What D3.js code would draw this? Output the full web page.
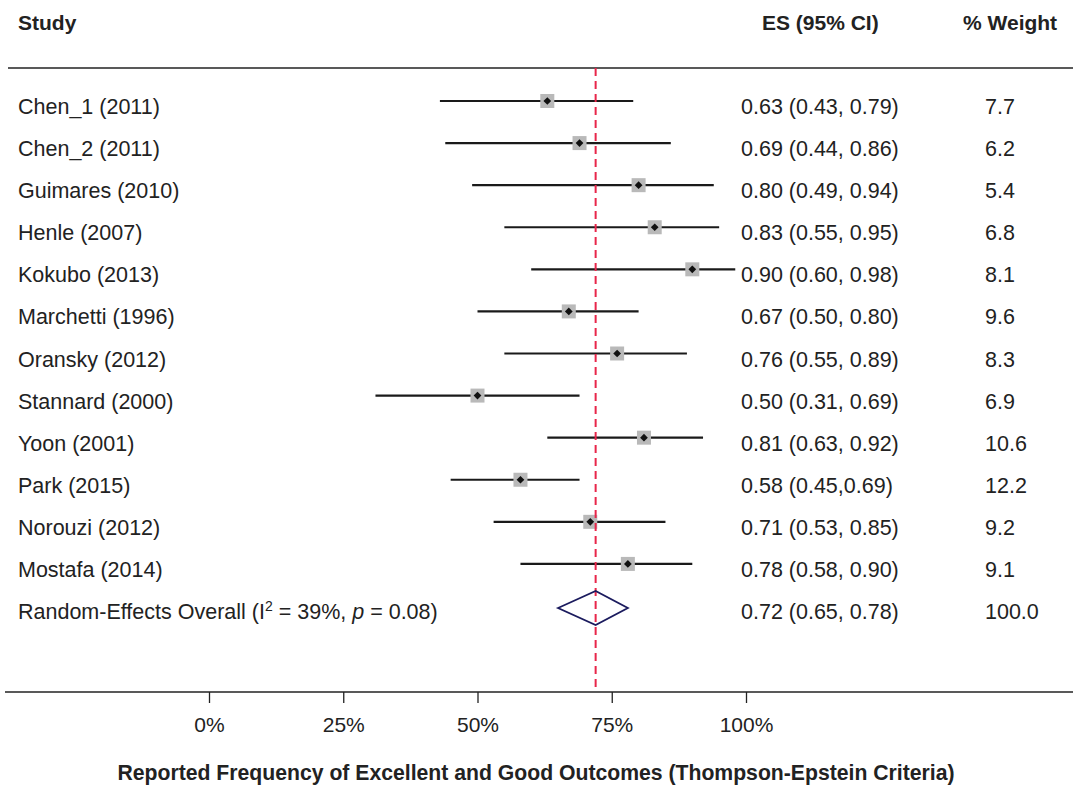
<!DOCTYPE html>
<html>
<head>
<meta charset="utf-8">
<script src="https://cdn.jsdelivr.net/npm/d3@7"></script>
<style>
  body { margin: 0; background: #fff; }
  svg text { font-family: "Liberation Sans", Arial, Helvetica, sans-serif; fill: #222; }
</style>
</head>
<body>
<div id="chart"></div>
<script>
// Data
const studies = ["Chen_1 (2011)", "Chen_2 (2011)", "Guimares (2010)", "Henle (2007)", "Kokubo (2013)",
  "Marchetti (1996)", "Oransky (2012)", "Stannard (2000)", "Yoon (2001)", "Park (2015)",
  "Norouzi (2012)", "Mostafa (2014)"];
const es    = [0.63, 0.69, 0.80, 0.83, 0.90, 0.67, 0.76, 0.50, 0.81, 0.58, 0.71, 0.78];
const lower = [0.43, 0.44, 0.49, 0.55, 0.60, 0.50, 0.55, 0.31, 0.63, 0.45, 0.53, 0.58];
const upper = [0.79, 0.86, 0.94, 0.95, 0.98, 0.80, 0.89, 0.69, 0.92, 0.69, 0.85, 0.90];
const esLabels = ["0.63 (0.43, 0.79)", "0.69 (0.44, 0.86)", "0.80 (0.49, 0.94)", "0.83 (0.55, 0.95)",
  "0.90 (0.60, 0.98)", "0.67 (0.50, 0.80)", "0.76 (0.55, 0.89)", "0.50 (0.31, 0.69)",
  "0.81 (0.63, 0.92)", "0.58 (0.45,0.69)", "0.71 (0.53, 0.85)", "0.78 (0.58, 0.90)"];
const weights = ["7.7", "6.2", "5.4", "6.8", "8.1", "9.6", "8.3", "6.9", "10.6", "12.2", "9.2", "9.1"];

const overall = { es: 0.72, lower: 0.65, upper: 0.78, label: "0.72 (0.65, 0.78)", weight: "100.0" };
const xTicks = [0, 0.25, 0.5, 0.75, 1];

const width = 1073, height = 787;
const fs = 21.5;

const svg = d3.select("#chart").append("svg")
  .attr("width", width)
  .attr("height", height);

const x = d3.scaleLinear().domain([0, 1]).range([209, 746]);

const rowNames = studies.concat(["overall"]);
const y = d3.scalePoint().domain(rowNames).range([101, 606]);

const topLine = 68, axisY = 692;
const esCol = 741, wCol = 985;

// header
svg.append("text").attr("x", 18).attr("y", 30).attr("font-size", 21).attr("font-weight", "bold").text("Study");
svg.append("text").attr("x", 762).attr("y", 30).attr("font-size", 21).attr("font-weight", "bold").text("ES (95% CI)");
svg.append("text").attr("x", 963).attr("y", 30).attr("font-size", 21).attr("font-weight", "bold").text("% Weight");

svg.append("line")
  .attr("x1", 8).attr("x2", width).attr("y1", topLine).attr("y2", topLine)
  .attr("stroke", "#222").attr("stroke-width", 1.5);

// CI lines
const rows = studies.map((s, i) => ({ s, es: es[i], lo: lower[i], hi: upper[i], lab: esLabels[i], w: weights[i] }));

svg.append("g").selectAll("line")
  .data(rows).join("line")
  .attr("x1", d => x(d.lo)).attr("x2", d => x(d.hi))
  .attr("y1", d => y(d.s)).attr("y2", d => y(d.s))
  .attr("stroke", "#1a1a1a").attr("stroke-width", 2.2);

// weight boxes
const box = 14;
svg.append("g").selectAll("rect")
  .data(rows).join("rect")
  .attr("x", d => x(d.es) - box / 2).attr("y", d => y(d.s) - box / 2)
  .attr("width", box).attr("height", box)
  .attr("fill", "#b9b9b9");

// point markers
svg.append("g").selectAll("path")
  .data(rows).join("path")
  .attr("d", d3.symbol(d3.symbolSquare, 30)())
  .attr("transform", d => `translate(${x(d.es)},${y(d.s)}) rotate(45)`)
  .attr("fill", "#111");

// labels
svg.append("g").selectAll("text")
  .data(rows).join("text")
  .attr("x", 18).attr("y", d => y(d.s) + 13)
  .attr("font-size", fs).text(d => d.s);

svg.append("g").selectAll("text")
  .data(rows).join("text")
  .attr("x", esCol).attr("y", d => y(d.s) + 13)
  .attr("font-size", fs).text(d => d.lab);

svg.append("g").selectAll("text")
  .data(rows).join("text")
  .attr("x", wCol).attr("y", d => y(d.s) + 13)
  .attr("font-size", fs).text(d => d.w);

// overall row
const oy = y("overall") + 2;
const ot = svg.append("text").attr("x", 18).attr("y", oy + 11).attr("font-size", fs);
ot.append("tspan").text("Random-Effects Overall (I");
ot.append("tspan").attr("font-size", 14).attr("dy", -8).text("2");
ot.append("tspan").attr("dy", 8).text(" = 39%, ");
ot.append("tspan").attr("font-style", "italic").text("p");
ot.append("tspan").text(" = 0.08)");

svg.append("text").attr("x", esCol).attr("y", oy + 11).attr("font-size", fs).text(overall.label);
svg.append("text").attr("x", wCol).attr("y", oy + 11).attr("font-size", fs).text(overall.weight);

// red dashed reference line at pooled estimate
svg.append("line")
  .attr("x1", x(overall.es)).attr("x2", x(overall.es))
  .attr("y1", topLine).attr("y2", axisY - 4)
  .attr("stroke", "#e8264a").attr("stroke-width", 2)
  .attr("stroke-dasharray", "8,5");

// overall diamond
const dh = 17;
svg.append("path")
  .attr("d", `M${x(overall.lower)},${oy} L${x(overall.es)},${oy - dh} L${x(overall.upper)},${oy} L${x(overall.es)},${oy + dh} Z`)
  .attr("fill", "none").attr("stroke", "#1b1b5e").attr("stroke-width", 1.8);

// axis
svg.append("line")
  .attr("x1", 5).attr("x2", width).attr("y1", axisY).attr("y2", axisY)
  .attr("stroke", "#222").attr("stroke-width", 1.5);

const axisG = svg.append("g")
  .attr("transform", `translate(0,${axisY})`)
  .call(d3.axisBottom(x).tickValues(xTicks).tickFormat(d3.format(".0%")).tickSize(11).tickPadding(14));
axisG.select(".domain").remove();
axisG.selectAll(".tick line").attr("stroke", "#222").attr("stroke-width", 1.3);
axisG.selectAll(".tick text")
  .attr("font-size", 21).attr("fill", "#222")
  .attr("font-family", "Liberation Sans, Arial, sans-serif");

svg.append("text")
  .attr("x", 536).attr("y", 780)
  .attr("text-anchor", "middle")
  .attr("font-size", 21.2).attr("font-weight", "bold")
  .text("Reported Frequency of Excellent and Good Outcomes (Thompson-Epstein Criteria)");
</script>
</body>
</html>
